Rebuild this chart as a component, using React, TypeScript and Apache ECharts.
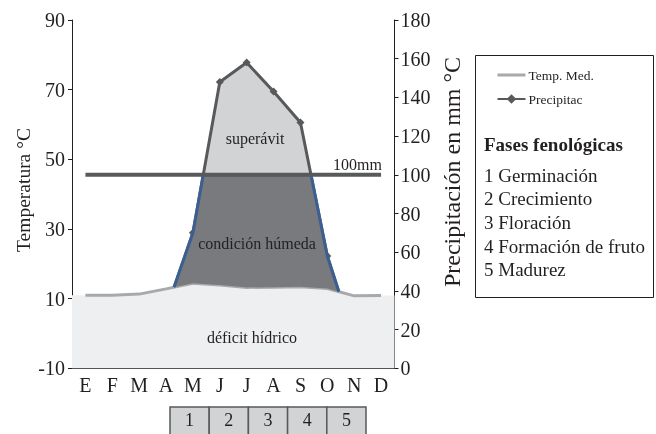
import { useEffect, useRef } from "react";
import * as echarts from "echarts";

// ---------- data ----------
const months = ["E", "F", "M", "A", "M", "J", "J", "A", "S", "O", "N", "D"];
const tempMed = [11.0, 11.0, 11.3, 12.8, 14.4, 13.9, 13.2, 13.3, 13.4, 12.9, 10.8, 10.9];
const precip = [15, 12, 20, 30, 70, 148, 158, 143, 127, 58, 15, 12];
const threshold = 100;
const tempMin = -10;
const tempMax = 90;
const tempStep = 20;
const precipMin = 0;
const precipMax = 180;
const precipStep = 20;
const phases = ["1", "2", "3", "4", "5"];
const phaseNames = ["1 Germinación", "2 Crecimiento", "3 Floración", "4 Formación de fruto", "5 Madurez"];
const areaLabels = { surplus: "superávit", humid: "condición húmeda", deficit: "déficit hídrico" };

const FONT = "'Liberation Serif', 'Times New Roman', serif";
const TXT = "#231f20";
const DARK = "#58595b";
const TEMP_C = "#a7a9ac";
const SURPLUS_C = "#d1d3d4";
const HUMID_C = "#797a7e";
const BLUE = "#3c5f91";
const DEFICIT_C = "#eeeff0";

type Pt = [number, number];

export default function App() {
  const ref = useRef<HTMLDivElement>(null);
  useEffect(() => {
    if (!ref.current) return;
    const chart = echarts.init(ref.current, undefined, { renderer: "svg" });

    const ratio = (precipMax - precipMin) / (tempMax - tempMin);
    const toP = (t: number) => precipMin + (t - tempMin) * ratio;
    const xs = months.map((_, i) => i + 0.5);
    const tP = tempMed.map(toP);
    const interp = (arr: number[], x: number) => {
      if (x <= xs[0]) return arr[0];
      if (x >= xs[xs.length - 1]) return arr[arr.length - 1];
      const i = Math.min(Math.floor(x - 0.5), xs.length - 2);
      const f = (x - xs[i]) / (xs[i + 1] - xs[i]);
      return arr[i] + f * (arr[i + 1] - arr[i]);
    };
    const pAt = (x: number) => interp(precip, x);
    const tAt = (x: number) => interp(tP, x);

    // breakpoints: month centres + crossings
    const bx: number[] = [...xs];
    for (let i = 0; i < xs.length - 1; i++) {
      const fs = [
        [precip[i] - tP[i], precip[i + 1] - tP[i + 1]],
        [precip[i] - threshold, precip[i + 1] - threshold],
      ];
      fs.forEach(([a, b]) => {
        if ((a < 0 && b > 0) || (a > 0 && b < 0)) {
          bx.push(xs[i] + (a / (a - b)) * (xs[i + 1] - xs[i]));
        }
      });
    }
    bx.sort((a, b) => a - b);
    const eps = 1e-6;

    const humidX = bx.filter((x) => pAt(x) >= tAt(x) - eps);
    const humidUpper: Pt[] = humidX.map((x) => [x, Math.min(pAt(x), threshold)]);
    const humidLower: Pt[] = humidX.map((x) => [x, tAt(x)] as Pt).reverse();
    const humidPoly = [...humidUpper, ...humidLower];

    const surX = bx.filter((x) => pAt(x) >= threshold - eps);
    const surPoly: Pt[] = [
      ...surX.map((x) => [x, pAt(x)] as Pt),
      ...surX.map((x) => [x, threshold] as Pt).reverse(),
    ];

    const defPoly: Pt[] = [
      [0, tP[0]],
      ...xs.map((x, i) => [x, tP[i]] as Pt),
      [months.length, tP[tP.length - 1]],
      [months.length, precipMin],
      [0, precipMin],
    ];

    const polySeries = (name: string, poly: Pt[], fill: string, z: number, border?: Pt[]) => ({
      type: "custom",
      name,
      xAxisIndex: 1,
      yAxisIndex: 1,
      z,
      silent: true,
      data: [[0, 0]],
      renderItem: (_p: any, api: any) => {
        const children: any[] = [
          { type: "polygon", shape: { points: poly.map((p) => api.coord(p)) }, style: { fill, stroke: "none" } },
        ];
        if (border) {
          children.push({
            type: "polyline",
            shape: { points: border.map((p) => api.coord(p)) },
            style: { stroke: BLUE, lineWidth: 3, fill: "none", lineJoin: "miter" },
          });
        }
        return { type: "group", children };
      },
    });

    const axisLabelStyle = { fontFamily: FONT, fontSize: 20, color: TXT };
    const text = (t: string, x: number, y: number, size: number, extra: any = {}) => ({
      type: "text",
      x,
      y,
      z: 100,
      rotation: extra.rotation || 0,
      style: {
        text: t,
        fontFamily: FONT,
        fontSize: size,
        fontWeight: extra.bold ? "bold" : "normal",
        fill: TXT,
        align: extra.align || "center",
        verticalAlign: "middle",
      },
    });

    const boxW = 39.2;
    const graphics: any[] = [
      text("Temperatura °C", 23, 190, 19.5, { rotation: Math.PI / 2 }),
      text("Precipitación en mm °C", 452, 172, 24, { rotation: Math.PI / 2 }),
      text(areaLabels.surplus, 255, 138, 16),
      text(areaLabels.humid, 257, 243, 16),
      text(areaLabels.deficit, 252, 337, 16),
      text(`${threshold}mm`, 382, 164, 16, { align: "right" }),
      {
        type: "rect",
        shape: { x: 475.5, y: 55.5, width: 178, height: 242 },
        style: { fill: "none", stroke: TXT, lineWidth: 1 },
      },
      text("Fases fenológicas", 484, 144, 19, { align: "left", bold: true }),
      ...phaseNames.map((n, i) => text(n, 484, 175 + i * 23.7, 19, { align: "left" })),
      ...phases.map((p, i) => ({
        type: "rect",
        shape: { x: 170 + i * boxW, y: 407, width: boxW, height: 32 },
        style: { fill: SURPLUS_C, stroke: DARK, lineWidth: 1.5 },
      })),
      ...phases.map((p, i) => text(p, 170 + i * boxW + boxW / 2, 420, 18)),
    ];

    chart.setOption({
      animation: false,
      grid: { left: 72, right: 261.5, top: 20, bottom: 65.7, containLabel: false },
      legend: {
        data: [
          { name: "Temp. Med.", itemStyle: { opacity: 0 }, lineStyle: { width: 3, color: TEMP_C, opacity: 1 } },
          { name: "Precipitac" },
        ],
        orient: "vertical",
        left: 491,
        top: 63,
        itemWidth: 28,
        itemHeight: 12,
        itemGap: 10,
        selectedMode: false,
        textStyle: { fontFamily: FONT, fontSize: 13.5, color: TXT, padding: [0, 0, 0, -2] },
      },
      xAxis: [
        {
          type: "category",
          data: months,
          boundaryGap: true,
          axisLine: { lineStyle: { color: TXT, width: 1 } },
          axisTick: { length: 4, lineStyle: { color: TXT } },
          axisLabel: { ...axisLabelStyle, margin: 7, interval: 0 },
          splitLine: { show: false },
        },
        { type: "value", min: 0, max: months.length, show: false },
      ],
      yAxis: [
        {
          type: "value",
          min: 0,
          max: tempMax - tempMin,
          interval: tempStep,
          position: "left",
          axisLine: { show: true, lineStyle: { color: TXT, width: 1 } },
          axisTick: { show: true, length: 4, lineStyle: { color: TXT } },
          axisLabel: { ...axisLabelStyle, margin: 7, formatter: (v: number) => String(v + tempMin) },
          splitLine: { show: false },
        },
        {
          type: "value",
          min: precipMin,
          max: precipMax,
          interval: precipStep,
          position: "right",
          axisLine: { show: true, lineStyle: { color: TXT, width: 1 } },
          axisTick: { show: true, length: 4, lineStyle: { color: TXT } },
          axisLabel: { ...axisLabelStyle, margin: 6 },
          splitLine: { show: false },
        },
      ],
      series: [
        polySeries("surplus", surPoly, SURPLUS_C, 1),
        {
          type: "line",
          name: "Precipitac",
          xAxisIndex: 1,
          yAxisIndex: 1,
          z: 2,
          data: xs.map((x, i) => [x, precip[i]]),
          symbol: "diamond",
          symbolSize: 8,
          showSymbol: true,
          lineStyle: { color: DARK, width: 3 },
          itemStyle: { color: DARK },
          silent: true,
        },
        polySeries("deficit", defPoly, DEFICIT_C, 3),
        {
          type: "line",
          name: "Temp. Med.",
          xAxisIndex: 1,
          yAxisIndex: 0,
          z: 4,
          data: xs.map((x, i) => [x, tempMed[i] - tempMin]),
          symbol: "none",
          lineStyle: { color: TEMP_C, width: 3 },
          itemStyle: { color: TEMP_C },
          silent: true,
        },
        polySeries("humid", humidPoly, HUMID_C, 5, humidUpper),
        {
          type: "line",
          name: "threshold",
          xAxisIndex: 1,
          yAxisIndex: 1,
          z: 6,
          data: [
            [xs[0], threshold],
            [xs[xs.length - 1], threshold],
          ],
          symbol: "none",
          lineStyle: { color: DARK, width: 4 },
          silent: true,
        },
      ],
      graphic: graphics,
    });

    return () => chart.dispose();
  }, []);

  return <div ref={ref} style={{ position: "fixed", left: 0, top: 0, width: 656, height: 434 }} />;
}
